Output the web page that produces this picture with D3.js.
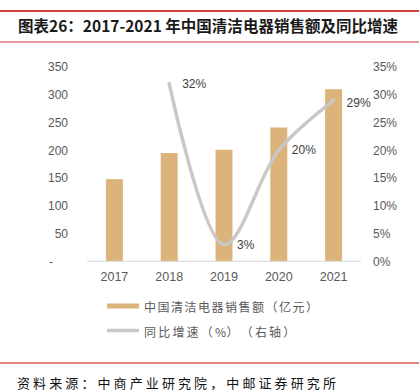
<!DOCTYPE html>
<html><head><meta charset="utf-8">
<script src="https://cdn.jsdelivr.net/npm/d3@7/dist/d3.min.js"></script>
<style>
html,body{margin:0;padding:0;background:#fff;}
svg{display:block;font-family:"Noto Sans CJK SC","Noto Sans",sans-serif;}
</style></head>
<body>
<script>
const title = "图表26：2017-2021 年中国清洁电器销售额及同比增速";
const source = "资料来源：中商产业研究院，中邮证券研究所";
const years = ["2017","2018","2019","2020","2021"];
const sales = [148, 195, 201, 241, 310];
const growth = [null, 32, 3, 20, 29];
const growthLabels = ["", "32%", "3%", "20%", "29%"];
const leftTicks = [0,50,100,150,200,250,300,350];
const rightTicks = [0,5,10,15,20,25,30,35];
const legendNames = ["中国清洁电器销售额（亿元）", "同比增速（%）（右轴）"];

const W = 419, H = 392;
const svg = d3.select("body").append("svg").attr("width", W).attr("height", H);

// place characters one by one with a fixed pitch (full-width) / half pitch (ASCII)
function spacedText(parent, str, x, y, full, half, attrs) {
  const t = parent.append("text").attr("y", y).attr("dominant-baseline","central");
  Object.entries(attrs).forEach(([k,v]) => t.attr(k, v));
  let cx = x;
  for (const ch of str) {
    t.append("tspan").attr("x", cx.toFixed(2)).text(ch);
    cx += ch.charCodeAt(0) > 0x2000 ? full : half;
  }
  return t;
}

const red = "#c00000";
svg.append("line").attr("x1",0).attr("x2",W).attr("y1",11).attr("y2",11).attr("stroke",red).attr("stroke-width",1.6);
svg.append("line").attr("x1",0).attr("x2",W).attr("y1",42).attr("y2",42).attr("stroke",red).attr("stroke-width",0.8);
svg.append("line").attr("x1",0).attr("x2",W).attr("y1",363).attr("y2",363).attr("stroke",red).attr("stroke-width",1);

svg.append("text").attr("x",18).attr("y",25).attr("dominant-baseline","central")
  .attr("font-size",15.5).attr("font-weight",700).attr("fill","#1a1a1a")
  .attr("textLength",380).attr("lengthAdjust","spacing").text(title);

spacedText(svg, source, 17, 382, 16.1, 8, {"font-size":13, "fill":"#111"});

const x0 = 87, x1 = 361, yTop = 67, yBot = 261.3;
const x = d3.scaleBand().domain(years).range([x0,x1]).paddingInner(0.69).paddingOuter(0.345);
const yL = d3.scaleLinear().domain([0,350]).range([yBot,yTop]);
const yR = d3.scaleLinear().domain([0,35]).range([yBot,yTop]);

const gray = "#595959";
// left axis
const axL = d3.axisLeft(yL).tickValues(leftTicks).tickSize(0).tickPadding(0)
  .tickFormat(d => d === 0 ? "-" : d);
const gL = svg.append("g").attr("transform",`translate(68,0)`).call(axL);
gL.select(".domain").remove();
gL.selectAll("text").attr("font-size",12).attr("fill",gray).attr("font-family","Liberation Sans, Arial, sans-serif")
  .attr("dx", d => d === 0 ? -15 : 0);

// right axis
const axR = d3.axisRight(yR).tickValues(rightTicks).tickSize(0).tickPadding(0)
  .tickFormat(d => d + "%");
const gR = svg.append("g").attr("transform",`translate(373,0)`).call(axR);
gR.select(".domain").remove();
gR.selectAll("text").attr("font-size",12).attr("fill",gray).attr("font-family","Liberation Sans, Arial, sans-serif");

// bars
svg.append("g").selectAll("rect").data(years).join("rect")
  .attr("x", d => x(d)).attr("width", x.bandwidth())
  .attr("y", (d,i) => yL(sales[i])).attr("height", (d,i) => yBot - yL(sales[i]))
  .attr("fill","#dcb47b");

// baseline
svg.append("line").attr("x1",x0).attr("x2",x1).attr("y1",yBot).attr("y2",yBot)
  .attr("stroke","#d9d9d9").attr("stroke-width",1);

// x axis
const axB = d3.axisBottom(x).tickSize(0).tickPadding(0);
const gB = svg.append("g").attr("transform",`translate(0,${yBot})`).call(axB);
gB.select(".domain").remove();
gB.selectAll("text").attr("y",15.5).attr("dy",0).attr("dominant-baseline","central")
  .attr("font-size",12.5).attr("fill",gray).attr("font-family","Liberation Sans, Arial, sans-serif");

// line
const pts = years.map((d,i) => ({x: x(d) + x.bandwidth()/2, v: growth[i], l: growthLabels[i]})).filter(p => p.v !== null);
const line = d3.line().x(p => p.x).y(p => yR(p.v)).curve(d3.curveCatmullRom.alpha(0.5));
svg.append("path").attr("d", line(pts)).attr("fill","none").attr("stroke","#c8c8c8")
  .attr("stroke-width",3.5).attr("stroke-linecap","round");

svg.append("g").selectAll("text").data(pts).join("text")
  .attr("x", p => p.x + 13).attr("y", (p,i) => yR(p.v) + (i === 3 ? 2.5 : 0))
  .attr("dominant-baseline","central").attr("font-size",12).attr("fill","#404040")
  .attr("font-family","Liberation Sans, Arial, sans-serif").text(p => p.l);

// legend
const lg = svg.append("g");
lg.append("rect").attr("x",107).attr("y",303.5).attr("width",32).attr("height",5).attr("fill","#dcb47b");
spacedText(lg, legendNames[0], 144, 306, 13.5, 9, {"font-size":12, "fill":gray});
lg.append("line").attr("x1",107).attr("x2",139).attr("y1",330.5).attr("y2",330.5)
  .attr("stroke","#c8c8c8").attr("stroke-width",3.5);
spacedText(lg, legendNames[1], 144, 330.5, 14.2, 11.5, {"font-size":12, "fill":gray});
</script>
</body></html>
